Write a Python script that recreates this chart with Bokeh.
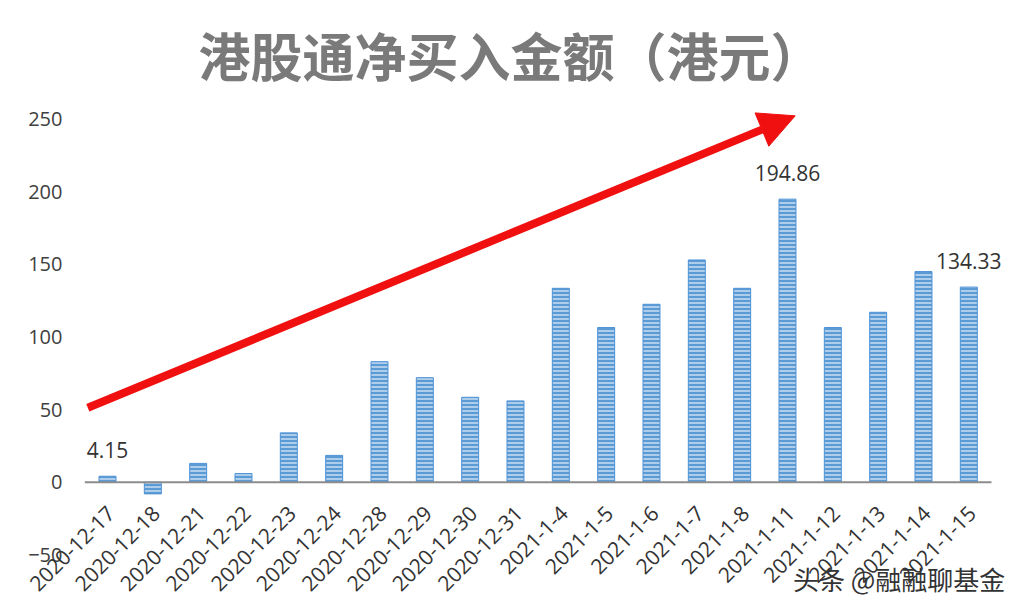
from bokeh.plotting import figure
from bokeh.models import (Range1d, FixedTicker, Arrow, NormalHead, Label, LabelSet,
                          Title, Span, ColumnDataSource)
from bokeh.core.properties import value
from bokeh.embed import file_html
from bokeh.resources import INLINE

dates = ["2020-12-17", "2020-12-18", "2020-12-21", "2020-12-22", "2020-12-23",
         "2020-12-24", "2020-12-28", "2020-12-29", "2020-12-30", "2020-12-31",
         "2021-1-4", "2021-1-5", "2021-1-6", "2021-1-7", "2021-1-8",
         "2021-1-11", "2021-1-12", "2021-1-13", "2021-1-14", "2021-1-15"]
net_buy = [4.15, -8, 13, 6, 34,
           18.5, 83, 72, 58.5, 56,
           133.5, 106.5, 122.5, 153, 133.5,
           194.86, 106.5, 117, 145, 134.33]
y_ticks = [-50, 0, 50, 100, 150, 200, 250]
labelled_dates = ["2020-12-17", "2021-1-11", "2021-1-15"]

title_text = "港股通净买入金额（港元）"
watermark_text = "头条 @融融聊基金"

idx = list(range(len(dates)))

# decorative trend arrow (category-index x, data y)
arrow_start = (-0.434, 51.3)
arrow_end = (15.17, 252.2)
watermark_pos = (15.12, -66.5)

p = figure(width=1006, height=598, output_backend="svg", toolbar_location=None,
           x_range=Range1d(-1.919, 19.831), y_range=Range1d(-80, 260),
           min_border_left=20, min_border_right=0, min_border_top=104, min_border_bottom=0)

p.title = Title(text=title_text, align="left", offset=178, standoff=26,
                text_font="Noto Sans CJK SC", text_font_size="52px",
                text_font_style="bold", text_color="#7a7a7a")

p.vbar(x=idx, top=net_buy, width=0.375, fill_color="#5b9bd5", line_color="#4f92d6",
       line_width=1, hatch_pattern="horizontal_line", hatch_color="#e4effa",
       hatch_scale=4, hatch_weight=1.2)

# zero line spans only the category area
p.segment(x0=[idx[0] - 0.5], x1=[idx[-1] + 0.5], y0=[0], y1=[0],
          line_color="#8c8c8c", line_width=2)

# category tick labels, rotated 45 degrees
tick_src = ColumnDataSource(data=dict(x=idx, y=[0] * len(dates), t=dates))
p.add_layout(LabelSet(x="x", y="y", text="t", source=tick_src, angle=45, angle_units="deg",
                      text_align="right", text_baseline="middle",
                      x_offset=3, y_offset=-27,
                      text_font=value("Open Sans"), text_font_size="21px",
                      text_color="#333333"))

# value labels
lab_idx = [dates.index(d) for d in labelled_dates]
lab_vals = [net_buy[i] for i in lab_idx]
val_src = ColumnDataSource(data=dict(x=lab_idx, y=lab_vals,
                                     t=[f"{v:.2f}" for v in lab_vals]))
p.add_layout(LabelSet(x="x", y="y", text="t", source=val_src,
                      text_align="center", text_baseline="middle", y_offset=26,
                      text_font=value("Open Sans"), text_font_size="21px",
                      text_color="#333333"))

p.add_layout(Arrow(end=NormalHead(size=36, fill_color="#f01010", line_color="#f01010"),
                   x_start=arrow_start[0], y_start=arrow_start[1],
                   x_end=arrow_end[0], y_end=arrow_end[1],
                   line_color="#f01010", line_width=8))

p.add_layout(Label(x=watermark_pos[0], y=watermark_pos[1], text=watermark_text,
                   text_align="left", text_baseline="middle",
                   text_font="Noto Sans CJK SC", text_font_size="26px",
                   text_color="#333333"))

p.xaxis.visible = False
p.xgrid.visible = False
p.ygrid.visible = False
p.outline_line_color = None

p.yaxis.ticker = FixedTicker(ticks=y_ticks)
p.yaxis.axis_line_color = None
p.yaxis.major_tick_line_color = None
p.yaxis.minor_tick_line_color = None
p.yaxis.major_tick_out = 0
p.yaxis.major_tick_in = 0
p.yaxis.major_label_standoff = -42
p.yaxis.major_label_text_font = "Open Sans"
p.yaxis.major_label_text_font_size = "20px"
p.yaxis.major_label_text_color = "#404040"

open("out.html", "w").write(file_html(p, INLINE))
